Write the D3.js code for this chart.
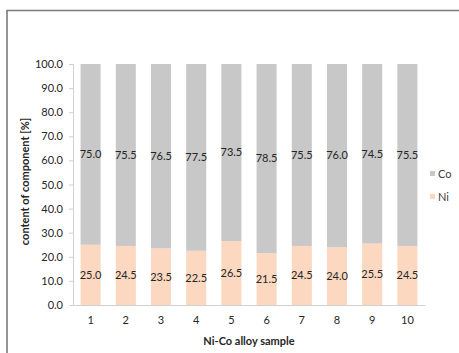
<!DOCTYPE html>
<html>
<head>
<meta charset="utf-8">
<script src="https://cdn.jsdelivr.net/npm/d3@7"></script>
<style>
  html, body { margin: 0; padding: 0; background: #fff; }
  svg { display: block; font-family: Lato, "Open Sans", sans-serif; }
</style>
</head>
<body>
<svg id="chart" width="459" height="353"></svg>
<script>
// Composition of ten Ni-Co alloy samples (percent)
const samples = ["1", "2", "3", "4", "5", "6", "7", "8", "9", "10"];
const niValues = [25.0, 24.5, 23.5, 22.5, 26.5, 21.5, 24.5, 24.0, 25.5, 24.5];
const coValues = [75.0, 75.5, 76.5, 77.5, 73.5, 78.5, 75.5, 76.0, 74.5, 75.5];
const yTicks = [0, 10, 20, 30, 40, 50, 60, 70, 80, 90, 100];
const seriesNames = ["Ni", "Co"];
const seriesColors = ["#fbd8bf", "#c8c8c8"];

const svg = d3.select("#chart");
const margin = { left: 73, right: 34, top: 64, bottom: 48 };
const W = 459, H = 353;
const plotW = W - margin.left - margin.right;
const plotH = H - margin.top - margin.bottom;

// outer frame (top and left edges)
svg.append("path")
  .attr("d", `M7,${H} V10.5 H${W}`)
  .attr("fill", "none")
  .attr("stroke", "#7a7a7a")
  .attr("stroke-width", 1.6);

const x = d3.scaleBand().domain(samples).range([0, plotW]).paddingInner(0.43).paddingOuter(0.215);
const y = d3.scaleLinear().domain([0, 100]).range([plotH, 0]);

const g = svg.append("g").attr("transform", `translate(${margin.left},${margin.top})`);

const rows = samples.map((s, i) => ({ sample: s, Ni: niValues[i], Co: coValues[i] }));
const stacked = d3.stack().keys(seriesNames)(rows);

// bars
const layers = g.selectAll("g.layer").data(stacked).join("g")
  .attr("class", "layer")
  .attr("fill", (d, i) => seriesColors[i]);

layers.selectAll("rect").data(d => d).join("rect")
  .attr("x", d => x(d.data.sample))
  .attr("width", x.bandwidth())
  .attr("y", d => y(d[1]))
  .attr("height", d => y(d[0]) - y(d[1]));

// value labels in the middle of each segment
layers.selectAll("text").data((d) => d.map(v => ({ v, key: d.key }))).join("text")
  .attr("x", d => x(d.v.data.sample) + x.bandwidth() / 2)
  .attr("y", d => y((d.v[0] + d.v[1]) / 2))
  .attr("dy", "0.35em")
  .attr("text-anchor", "middle")
  .attr("font-size", 11)
  .attr("fill", "#262626")
  .text(d => d.v.data[d.key].toFixed(1));

// y axis
const yAxis = g.append("g")
  .call(d3.axisLeft(y).tickValues(yTicks).tickFormat(d => d.toFixed(1)).tickSize(4).tickPadding(6));
yAxis.select(".domain").attr("stroke", "#d0d0d0");
yAxis.selectAll(".tick line").attr("stroke", "#d0d0d0");
yAxis.selectAll(".tick text").attr("font-size", 11).attr("fill", "#262626")
  .attr("font-family", "Lato, 'Open Sans', sans-serif");

// x axis
const xAxis = g.append("g").attr("transform", `translate(0,${plotH})`)
  .call(d3.axisBottom(x).tickSize(0).tickPadding(11));
xAxis.select(".domain").attr("stroke", "#d0d0d0");
xAxis.selectAll(".tick text").attr("font-size", 11).attr("fill", "#262626")
  .attr("font-family", "Lato, 'Open Sans', sans-serif");

// axis titles
g.append("text")
  .attr("x", plotW / 2)
  .attr("y", plotH + 36)
  .attr("dy", "0.35em")
  .attr("text-anchor", "middle")
  .attr("font-size", 11)
  .attr("font-weight", "bold")
  .attr("fill", "#262626")
  .text("Ni-Co alloy sample");

g.append("text")
  .attr("transform", `translate(${25 - margin.left},${y(50) - 3}) rotate(-90)`)
  .attr("dy", "0.35em")
  .attr("text-anchor", "middle")
  .attr("font-size", 11)
  .attr("font-weight", "bold")
  .attr("fill", "#262626")
  .text("content of component [%]");

// legend (Co above Ni)
const legendItems = [
  { name: "Co", color: seriesColors[1], cy: 174 },
  { name: "Ni", color: seriesColors[0], cy: 197 }
];
const legend = svg.append("g");
legendItems.forEach(it => {
  legend.append("rect")
    .attr("x", 430).attr("y", it.cy - 3)
    .attr("width", 5).attr("height", 5)
    .attr("fill", it.color);
  legend.append("text")
    .attr("x", 438).attr("y", it.cy)
    .attr("dy", "0.35em")
    .attr("font-size", 11)
    .attr("fill", "#404040")
    .text(it.name);
});
</script>
</body>
</html>
